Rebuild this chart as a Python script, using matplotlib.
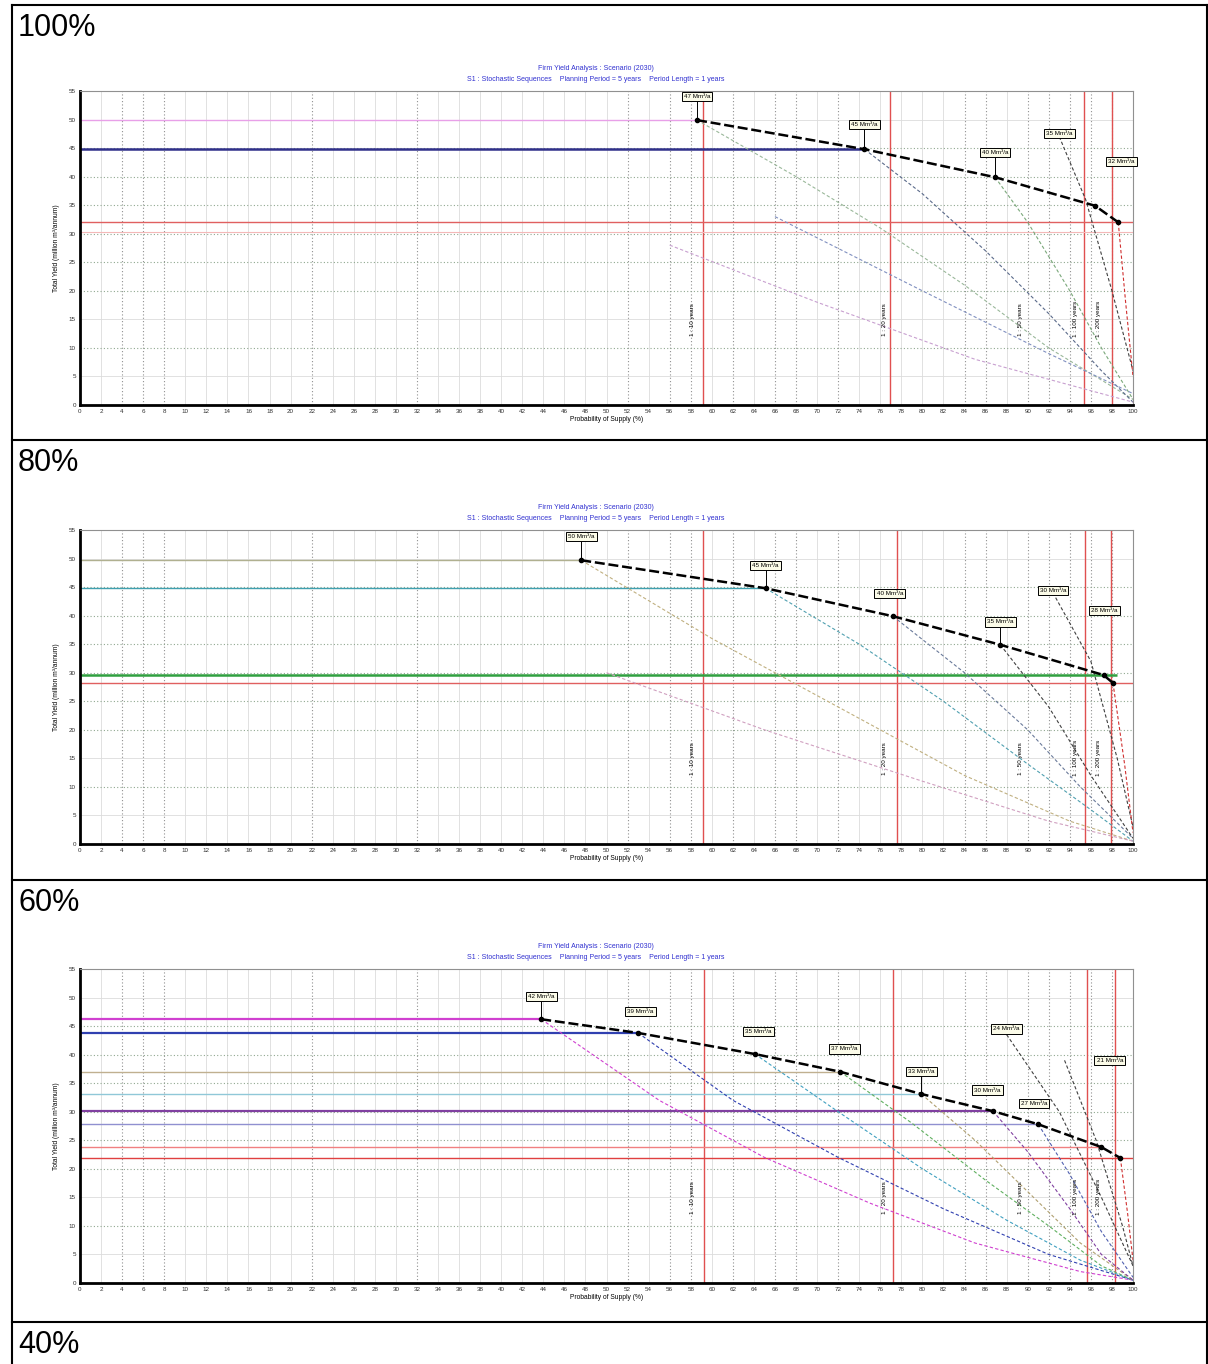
import numpy as np
import matplotlib
matplotlib.use('Agg')
import matplotlib.pyplot as plt
from matplotlib.lines import Line2D

plt.rcParams['font.family'] = ['Liberation Sans', 'DejaVu Sans']

# Panel captions (table rows)
row_labels = ['100%', '80%', '60%', '40%']

# Axis ticks
x_ticks = list(range(0, 101, 2))
y_ticks = list(range(0, 56, 5))

title_1 = 'Firm Yield Analysis : Scenario (2030)'
title_2 = 'S1 : Stochastic Sequences    Planning Period = 5 years    Period Length = 1 years'
x_title = 'Probability of Supply (%)'
y_title = 'Total Yield (million m³/annum)'

# Return period labels and their x positions (%)
rp_labels = ['1 : 10 years', '1 : 20 years', '1 : 50 years', '1 : 100 years', '1 : 200 years']
rp_x = [58.2, 76.4, 89.3, 94.5, 96.7]
rp_y = [15, 15, 15, 15, 15]

# ---- 100% panel ----
p1_x = [58.6, 74.5, 86.9, 96.4, 98.6]
p1_y = [49.9, 44.8, 39.9, 34.9, 32.0]
p1_box = ['47 Mm³/a', '45 Mm³/a', '40 Mm³/a', '35 Mm³/a', '32 Mm³/a']
p1_box_x = [58.6, 74.5, 86.9, 93.0, 98.9]
p1_box_y = [54.0, 49.1, 44.2, 47.6, 42.7]
p1_h = [49.9, 44.8, 32.0, 30.3]
p1_h_end = [58.6, 74.5, 100, 100]
p1_h_col = ['#e8a0e8', '#30308a', '#e06060', '#f4b8b8']
p1_h_lw = [1.0, 1.8, 1.0, 0.8]
p1_v = [59.2, 76.9, 95.3, 98.0]
p1_curves_x = [[58.6, 68, 76, 84, 92, 100],
               [74.5, 80, 86, 92, 97, 100],
               [86.9, 90, 94, 97, 100],
               [93.0, 95.5, 98, 100],
               [98.6, 99.3, 100],
               [56, 70, 85, 100],
               [66, 80, 92, 100]]
p1_curves_y = [[49.9, 40, 31, 21, 10, 1],
               [44.8, 37, 27, 16, 6, 0.5],
               [39.9, 32, 20, 10, 1],
               [47.0, 36, 20, 6],
               [32.0, 18, 5],
               [28, 18, 8, 0.5],
               [33, 20, 9, 2]]
p1_curves_col = ['#9ab89a', '#5a6a8a', '#7aa87a', '#404040', '#d03030', '#c8a0d0', '#8090c0']

# ---- 80% panel ----
p2_x = [47.6, 65.1, 77.2, 87.4, 97.2, 98.1]
p2_y = [49.7, 44.8, 39.9, 34.9, 29.6, 28.2]
p2_box = ['50 Mm³/a', '45 Mm³/a', '40 Mm³/a', '35 Mm³/a', '30 Mm³/a', '28 Mm³/a']
p2_box_x = [47.6, 65.1, 76.9, 87.4, 92.4, 97.3]
p2_box_y = [53.9, 48.8, 43.9, 38.9, 44.4, 40.9]
p2_h = [49.7, 44.8, 29.6, 28.2]
p2_h_end = [47.6, 65.1, 98.5, 100]
p2_h_col = ['#b0b090', '#40a0b0', '#30a040', '#e06060']
p2_h_lw = [1.0, 1.0, 1.8, 1.0]
p2_v = [59.2, 77.6, 95.4, 97.9]
p2_curves_x = [[47.6, 60, 72, 84, 94, 100],
               [65.1, 74, 82, 90, 96, 100],
               [77.2, 84, 90, 95, 100],
               [87.4, 92, 96, 100],
               [92.4, 96, 98.5, 100],
               [98.1, 99.2, 100],
               [50, 65, 80, 92, 100]]
p2_curves_y = [[49.7, 36, 24, 12, 4, 0.5],
               [44.8, 35, 25, 14, 6, 0.5],
               [39.9, 30, 20, 10, 1],
               [34.9, 24, 12, 1],
               [44.0, 32, 15, 3],
               [28.2, 14, 2],
               [30, 20, 11, 4, 0.5]]
p2_curves_col = ['#c0b080', '#50a0b0', '#6a7a9a', '#404040', '#404040', '#d03030', '#d0a0c0']

# ---- 60% panel ----
p3_x = [43.8, 53.0, 64.1, 72.2, 79.9, 86.7, 91.0, 97.0, 98.8]
p3_y = [46.2, 43.8, 40.1, 37.0, 33.1, 30.1, 27.8, 23.8, 21.9]
p3_box = ['42 Mm³/a', '39 Mm³/a', '35 Mm³/a', '37 Mm³/a', '33 Mm³/a', '30 Mm³/a',
          '27 Mm³/a', '24 Mm³/a', '21 Mm³/a']
p3_box_x = [43.8, 53.2, 64.4, 72.6, 79.9, 86.2, 90.6, 88.0, 97.8]
p3_box_y = [50.2, 47.6, 44.1, 41.0, 37.1, 33.8, 31.4, 44.5, 39.0]
p3_h = [46.2, 43.8, 37.0, 33.1, 30.1, 27.8, 23.8, 21.9]
p3_h_end = [43.8, 53.0, 72.2, 79.9, 86.7, 91.0, 97.0, 100]
p3_h_col = ['#d040d0', '#3040b0', '#c0b090', '#90c8d8', '#8040a0', '#9090d0', '#f08080', '#e04040']
p3_h_lw = [1.6, 1.6, 1.0, 1.0, 1.6, 1.0, 1.0, 1.0]
p3_v = [59.3, 77.2, 95.6, 98.3]
p3_curves_x = [[43.8, 55, 65, 75, 85, 95, 100],
               [53.0, 62, 72, 82, 92, 100],
               [64.1, 72, 80, 88, 95, 100],
               [72.2, 79, 86, 92, 97, 100],
               [79.9, 85, 90, 95, 100],
               [86.7, 90, 94, 97, 100],
               [91.0, 94, 97, 100],
               [88.0, 93, 97, 100],
               [93.5, 96.5, 99, 100],
               [98.8, 99.5, 100]]
p3_curves_y = [[46.2, 32, 22, 14, 7, 2, 0.5],
               [43.8, 32, 22, 13, 5, 0.5],
               [40.1, 30, 20, 11, 4, 0.5],
               [37.0, 28, 18, 10, 3, 0.5],
               [33.1, 25, 16, 7, 0.5],
               [30.1, 23, 13, 5, 0.5],
               [27.8, 19, 9, 1],
               [43.5, 30, 15, 3],
               [39.0, 25, 10, 3],
               [21.9, 12, 4]]
p3_curves_col = ['#d040d0', '#3040b0', '#40a0c0', '#60b060', '#b0a070', '#8040a0',
                 '#5060b0', '#404040', '#404040', '#d03030']

panels = [
    (p1_x, p1_y, p1_box, p1_box_x, p1_box_y, p1_h, p1_h_end, p1_h_col, p1_h_lw, p1_v,
     p1_curves_x, p1_curves_y, p1_curves_col),
    (p2_x, p2_y, p2_box, p2_box_x, p2_box_y, p2_h, p2_h_end, p2_h_col, p2_h_lw, p2_v,
     p2_curves_x, p2_curves_y, p2_curves_col),
    (p3_x, p3_y, p3_box, p3_box_x, p3_box_y, p3_h, p3_h_end, p3_h_col, p3_h_lw, p3_v,
     p3_curves_x, p3_curves_y, p3_curves_col),
]

# gridlines drawn dotted (the rest are light solid)
dotted_x = [4, 6, 8, 22, 32, 52, 56, 58, 62, 66, 68, 72, 84, 86, 90, 92, 94, 96, 98]
dotted_y = [10, 20, 25, 30, 35, 40, 45]

W, H = 1208, 1364
fig = plt.figure(figsize=(W / 100, H / 100), dpi=100)


def draw_panel(ax, px, py, box, bx, by, hy, hend, hcol, hlw, vx, cx, cy, ccol):
    ax.set_xlim(0, 100)
    ax.set_ylim(0, 55)

    # background grid
    for xv in x_ticks:
        if xv in dotted_x:
            ax.axvline(xv, color='#909090', lw=0.8, ls=(0, (1, 2)), zorder=0)
        else:
            ax.axvline(xv, color='#dcdcdc', lw=0.6, zorder=0)
    for yv in y_ticks:
        if yv in dotted_y:
            ax.axhline(yv, color='#90a890', lw=0.8, ls=(0, (1, 2)), zorder=0)
        else:
            ax.axhline(yv, color='#dcdcdc', lw=0.6, zorder=0)

    # vertical red lines
    for xv in vx:
        ax.axvline(xv, color='#e05050', lw=1.0, zorder=1)

    # horizontal yield lines
    for yv, xe, c, lw in zip(hy, hend, hcol, hlw):
        ax.hlines(yv, 0, xe, colors=c, lw=lw, zorder=2)

    # decay curves
    for xs, ys, c in zip(cx, cy, ccol):
        ax.plot(xs, ys, color=c, lw=0.8, ls=(0, (3, 2)), zorder=3)

    # main yield line
    ax.plot(px, py, color='black', lw=1.8, ls=(0, (4, 1.5)), marker='o', ms=3, zorder=5)

    # value boxes with leader lines
    for t, x0, y0, xb, yb in zip(box, px, py, bx, by):
        if xb == x0:
            ax.plot([x0, x0], [y0, yb], color='black', lw=0.7, zorder=4)
        ax.text(xb, yb, t, fontsize=4.5, ha='center', va='center', zorder=6,
                bbox=dict(boxstyle='square,pad=0.35', fc='#fbfbe8', ec='black', lw=0.7))

    # return period labels
    for t, x0, y0 in zip(rp_labels, rp_x, rp_y):
        ax.text(x0, y0, t, rotation=90, fontsize=4.5, ha='center', va='center', zorder=6)

    ax.set_xticks(x_ticks)
    ax.set_xticklabels([str(v) for v in x_ticks], fontsize=4.5, color='#303030')
    ax.set_yticks(y_ticks)
    ax.set_yticklabels([str(v) for v in y_ticks], fontsize=4.5, color='#303030')
    ax.tick_params(length=0, pad=3)
    ax.set_xlabel(x_title, fontsize=4.8, labelpad=1)
    ax.set_ylabel(y_title, fontsize=4.8, labelpad=6)

    for s in ['left', 'bottom']:
        ax.spines[s].set_linewidth(2.0)
    for s in ['top', 'right']:
        ax.spines[s].set_color('#909090')
        ax.spines[s].set_linewidth(0.8)

    ax.text(0.49, 1.062, title_1, transform=ax.transAxes, fontsize=5, color='#3030d0',
            ha='center', va='bottom')
    ax.text(0.49, 1.027, title_2, transform=ax.transAxes, fontsize=5, color='#3030d0',
            ha='center', va='bottom')


# plot areas (pixel coordinates of the reference)
ax_left, ax_right = 80, 1133
ax_tops = [91, 530, 969]
ax_h = 314

for i, pan in enumerate(panels):
    top = ax_tops[i]
    ax = fig.add_axes([ax_left / W, (H - top - ax_h) / H, (ax_right - ax_left) / W, ax_h / H])
    draw_panel(ax, *pan)

# table frame
row_tops = [5, 440, 880, 1322]
for y in row_tops:
    fig.add_artist(Line2D([12 / W, 1], [1 - y / H, 1 - y / H], color='black', lw=1.5))
fig.add_artist(Line2D([12 / W, 12 / W], [0, 1 - 5 / H], color='black', lw=1.5))
fig.add_artist(Line2D([1 - 1.5 / W, 1 - 1.5 / W], [0, 1 - 5 / H], color='black', lw=1.5))

for lab, y in zip(row_labels, row_tops):
    fig.text(18 / W, 1 - (y + 23) / H, lab, fontsize=22, va='center', ha='left')

fig.savefig('out.png', dpi=100)
